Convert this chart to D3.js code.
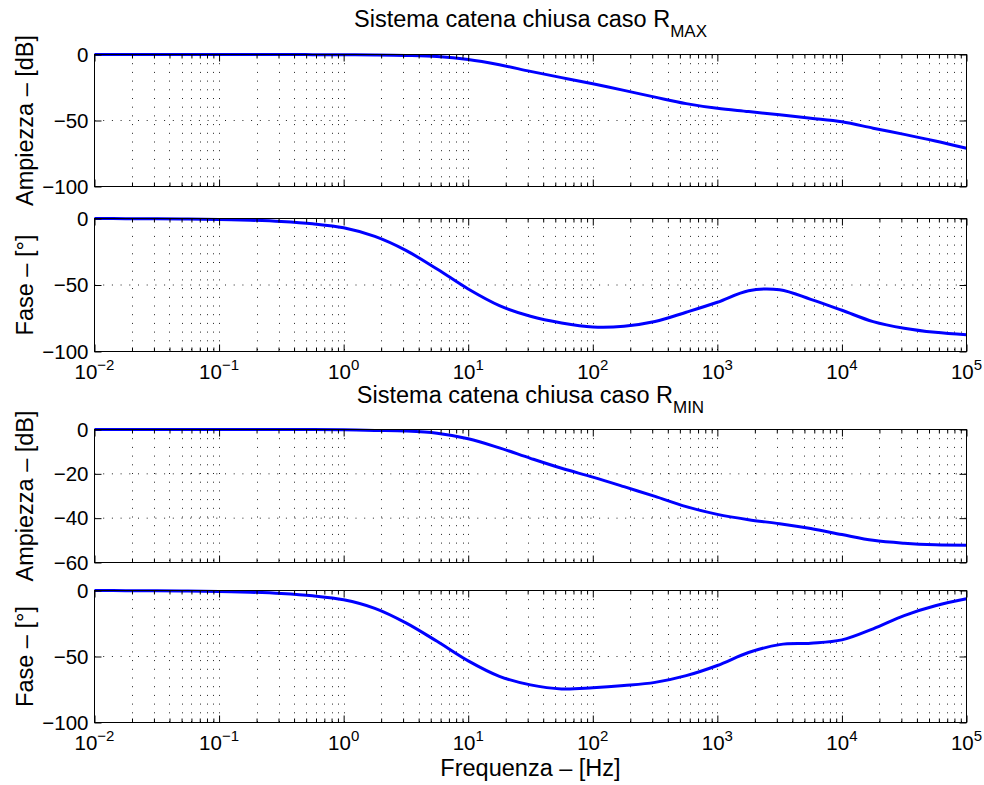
<!DOCTYPE html>
<html>
<head>
<meta charset="utf-8">
<script src="https://cdn.jsdelivr.net/npm/d3@7"></script>
<style>
  body { margin: 0; background: #fff; }
  svg { display: block; font-family: "Liberation Sans", Arial, Helvetica, sans-serif; }
</style>
</head>
<body>
<svg width="984" height="785"></svg>
<script>
// frequencies (Hz), quarter-decade steps
const freq = [0.01, 0.0178, 0.0316, 0.0562, 0.1, 0.178, 0.316, 0.562, 1, 1.78, 3.16, 5.62,
  10, 17.8, 31.6, 56.2, 100, 178, 316, 562, 1000, 1780, 3160, 5620, 10000, 17800, 31600, 56200, 100000];

// caso R_MAX
const magMax = [0, 0, 0, 0, 0, 0, 0, -0.1, -0.2, -0.35, -0.7, -1.5,
  -3.8, -7.8, -12.8, -17.5, -22.2, -27.2, -32.3, -37.2, -40.8, -43.2, -45.7, -48.3, -51, -55.8, -60.5, -65.5, -71];
const phaseMax = [0, -0.1, -0.2, -0.4, -0.7, -1.3, -2.3, -4, -7, -13.5, -24, -38,
  -53, -65.5, -73.5, -78.5, -81.5, -81, -77.5, -70.5, -63, -54.3, -53.6, -60.8, -69, -77.5, -82.5, -85.6, -87.4];

// caso R_MIN
const magMin = [0, 0, 0, 0, 0, 0, 0, 0, -0.1, -0.4, -0.7, -1.7,
  -4.2, -8.3, -13, -17.5, -21.5, -25.8, -30.2, -34.8, -38.3, -40.7, -42.5, -44.7, -47.4, -50, -51.3, -52, -52.2];
const phaseMin = [0, -0.1, -0.2, -0.4, -0.7, -1.3, -2.3, -4, -7, -13.5, -24.5, -38.5,
  -53.3, -65, -71.5, -74.6, -73.7, -72, -69.6, -64.5, -56.8, -47, -41, -39.9, -37.4, -29, -19, -11.6, -6.3];

// ticks
const decades = [1e-2, 1e-1, 1e0, 1e1, 1e2, 1e3, 1e4, 1e5];
const magMaxTicks = [0, -50, -100];
const magMinTicks = [0, -20, -40, -60];
const phaseTicks = [0, -50, -100];

const titleMax = ["Sistema catena chiusa caso R", "MAX"];
const titleMin = ["Sistema catena chiusa caso R", "MIN"];
const xTitle = "Frequenza – [Hz]";
const magLabel = "Ampiezza – [dB]";
const phaseLabel = "Fase – [°]";

const width = 984;
const height = 785;
const margin = { left: 94.5, right: 17.5 };
const tickFont = 20.5;
const labelFont = 23.5;

const svg = d3.select("svg");

const xScale = d3
  .scaleLog()
  .domain([1e-2, 1e5])
  .range([margin.left, width - margin.right]);

// minor log ticks 2..9 per decade
const minorTicks = [];
decades.slice(0, -1).forEach(d => {
  for (let k = 2; k <= 9; k++) minorTicks.push(d * k);
});

const panels = [
  { top: 54.5, bottom: 186.5, values: magMax, domain: [-100, 0], yTicks: magMaxTicks, label: magLabel, xLabels: false },
  { top: 218.5, bottom: 351.5, values: phaseMax, domain: [-100, 0], yTicks: phaseTicks, label: phaseLabel, xLabels: true },
  { top: 429.5, bottom: 562.5, values: magMin, domain: [-60, 0], yTicks: magMinTicks, label: magLabel, xLabels: false },
  { top: 590.5, bottom: 722.5, values: phaseMin, domain: [-100, 0], yTicks: phaseTicks, label: phaseLabel, xLabels: true }
];

const noLabel = () => "";

function styleAxis(a) {
  a.select(".domain").remove();
  a.attr("font-family", null).attr("font-size", tickFont);
  a.selectAll(".tick line").attr("stroke", "#000");
  a.selectAll(".tick text").attr("fill", "#000");
}

panels.forEach(p => {
  const yScale = d3.scaleLinear().domain(p.domain).range([p.bottom, p.top]);
  const g = svg.append("g");

  // grid (dotted)
  const grid = g.append("g")
    .attr("stroke", "#222")
    .attr("stroke-width", 1)
    .attr("stroke-dasharray", "1,7.7");
  grid.selectAll("line.v")
    .data(decades.concat(minorTicks).filter(d => d > 1e-2 && d < 1e5))
    .join("line")
    .attr("class", "v")
    .attr("x1", d => Math.round(xScale(d)) + 0.5)
    .attr("x2", d => Math.round(xScale(d)) + 0.5)
    .attr("y1", p.top)
    .attr("y2", p.bottom);
  grid.selectAll("line.h")
    .data(p.yTicks.filter(d => d !== p.domain[0] && d !== p.domain[1]))
    .join("line")
    .attr("class", "h")
    .attr("x1", margin.left)
    .attr("x2", width - margin.right)
    .attr("y1", d => yScale(d))
    .attr("y2", d => yScale(d));

  // curve
  const rows = freq.map((f, i) => ({ f: f, v: p.values[i] }));
  const line = d3
    .line()
    .x(d => xScale(d.f))
    .y(d => yScale(d.v))
    .curve(d3.curveCatmullRom.alpha(0.5));
  g.append("path")
    .attr("d", line(rows))
    .attr("fill", "none")
    .attr("stroke", "#0000ff")
    .attr("stroke-width", 3);

  // inside ticks on all four sides
  g.append("g")
    .attr("transform", `translate(0,${p.bottom})`)
    .call(d3.axisBottom(xScale).tickValues(decades).tickSize(-7).tickFormat(noLabel))
    .call(styleAxis);
  g.append("g")
    .attr("transform", `translate(0,${p.bottom})`)
    .call(d3.axisBottom(xScale).tickValues(minorTicks).tickSize(-4).tickFormat(noLabel))
    .call(styleAxis);
  g.append("g")
    .attr("transform", `translate(0,${p.top})`)
    .call(d3.axisTop(xScale).tickValues(decades).tickSize(-7).tickFormat(noLabel))
    .call(styleAxis);
  g.append("g")
    .attr("transform", `translate(0,${p.top})`)
    .call(d3.axisTop(xScale).tickValues(minorTicks).tickSize(-4).tickFormat(noLabel))
    .call(styleAxis);
  g.append("g")
    .attr("transform", `translate(${margin.left},0)`)
    .call(d3.axisLeft(yScale).tickValues(p.yTicks).tickSize(-7).tickPadding(6))
    .call(styleAxis);
  g.append("g")
    .attr("transform", `translate(${width - margin.right},0)`)
    .call(d3.axisRight(yScale).tickValues(p.yTicks).tickSize(-7).tickFormat(noLabel))
    .call(styleAxis);

  // box
  g.append("rect")
    .attr("x", margin.left)
    .attr("y", p.top)
    .attr("width", width - margin.right - margin.left)
    .attr("height", p.bottom - p.top)
    .attr("fill", "none")
    .attr("stroke", "#000")
    .attr("stroke-width", 1);

  // 10^n labels
  if (p.xLabels) {
    const t = g.append("g")
      .selectAll("text")
      .data(decades)
      .join("text")
      .attr("x", d => xScale(d))
      .attr("y", p.bottom + 27.5)
      .attr("text-anchor", "middle")
      .attr("font-size", tickFont);
    t.append("tspan").text("10");
    t.append("tspan")
      .attr("dy", -9)
      .attr("font-size", 15)
      .text(d => d3.format("d")(Math.round(Math.log10(d))));
  }

  // y label
  g.append("text")
    .attr("transform", `translate(33,${(p.top + p.bottom) / 2}) rotate(-90)`)
    .attr("text-anchor", "middle")
    .attr("font-size", labelFont)
    .text(p.label);
});

// titles with subscript
function addTitle(parts, y) {
  const t = svg.append("text")
    .attr("x", (margin.left + width - margin.right) / 2)
    .attr("y", y)
    .attr("text-anchor", "middle")
    .attr("font-size", labelFont);
  t.append("tspan").text(parts[0]);
  t.append("tspan").attr("dy", 10).attr("font-size", 17).text(parts[1]);
}
addTitle(titleMax, 27);
addTitle(titleMin, 403);

svg.append("text")
  .attr("x", (margin.left + width - margin.right) / 2)
  .attr("y", 776)
  .attr("text-anchor", "middle")
  .attr("font-size", labelFont)
  .text(xTitle);
</script>
</body>
</html>
